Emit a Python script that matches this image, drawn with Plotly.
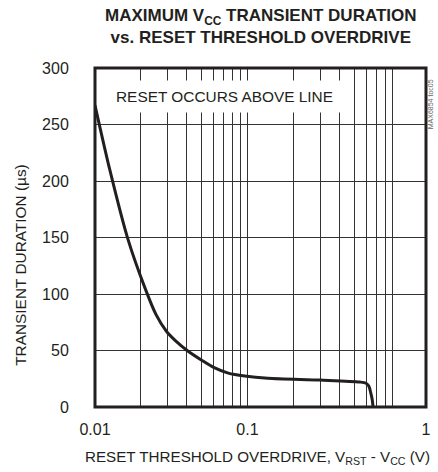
import math
import plotly.graph_objects as go

# ---- data ----
overdrive_v = [0.01, 0.0125, 0.0164, 0.0216, 0.0251, 0.0294, 0.0338, 0.0402,
               0.0498, 0.06, 0.0748, 0.0959, 0.136, 0.3, 0.545, 0.6,
               0.625, 0.645, 0.659, 0.666]
duration_us = [267, 210, 149, 103, 82, 67, 58.5, 50,
               41.6, 35, 30, 27.4, 25.4, 23.8, 22.1, 21,
               18.5, 12, 6, 0]

x_grid = [0.01, 0.02, 0.03, 0.04, 0.05, 0.06, 0.07, 0.08, 0.09,
          0.1, 0.2, 0.3, 0.4, 0.5, 0.6, 0.7, 0.8, 0.9]
x_labels = {0.01: "0.01", 0.1: "0.1"}
x_axis_end = 1.483          # right edge of the printed axis, labelled "1"
x_end_label = "1"
y_ticks = [0, 50, 100, 150, 200, 250, 300]

title_text = "<b>MAXIMUM V<sub>CC</sub> TRANSIENT DURATION<br>vs. RESET THRESHOLD OVERDRIVE</b>"
x_title = "RESET THRESHOLD OVERDRIVE, V<sub>RST</sub> - V<sub>CC</sub> (V)"
y_title = "TRANSIENT DURATION (µs)"
note_text = "RESET OCCURS ABOVE LINE"
tag_text = "MAX6854 toc05"

FONT = "Liberation Sans, Arial, sans-serif"
INK = "#231f20"
GRID = "#333333"

tickvals = x_grid + [x_axis_end]
ticktext = [x_labels.get(v, "") for v in x_grid] + [x_end_label]

fig = go.Figure()
fig.add_trace(go.Scatter(
    x=overdrive_v, y=duration_us, mode="lines",
    line=dict(color=INK, width=3, shape="spline", smoothing=0.8),
    hoverinfo="skip", showlegend=False,
))

fig.update_layout(
    width=438, height=472,
    margin=dict(l=95, r=7, t=68, b=65),
    paper_bgcolor="white", plot_bgcolor="white",
    font=dict(family=FONT, size=16, color=INK),
    showlegend=False,
    xaxis=dict(
        type="log", range=[math.log10(0.01), math.log10(x_axis_end)],
        tickmode="array", tickvals=tickvals, ticktext=ticktext,
        showgrid=True, gridcolor=GRID, gridwidth=1,
        zeroline=False, showline=False, ticks="",
        ticklabelstandoff=11,
        tickfont=dict(family=FONT, size=16, color=INK),
    ),
    yaxis=dict(
        range=[0, 300], tickmode="array", tickvals=y_ticks,
        showgrid=True, gridcolor=GRID, gridwidth=1,
        zeroline=False, showline=False,
        ticks="outside", ticklen=22, tickcolor="rgba(0,0,0,0)",
        tickfont=dict(family=FONT, size=16, color=INK),
    ),
    shapes=[dict(type="rect", xref="paper", yref="paper", x0=0, y0=0, x1=1, y1=1,
                 line=dict(color=INK, width=3), layer="above")],
    annotations=[
        dict(text=title_text, xref="paper", yref="paper", x=0.5, y=1.19,
             xanchor="center", yanchor="top", showarrow=False,
             font=dict(family=FONT, size=17, color=INK)),
        dict(text=x_title, xref="paper", yref="paper", x=0.49, y=-0.115,
             xanchor="center", yanchor="top", showarrow=False,
             font=dict(family=FONT, size=15.2, color=INK)),
        dict(text=y_title, xref="paper", yref="paper", x=-0.226, y=0.42,
             xanchor="center", yanchor="middle", textangle=-90, showarrow=False,
             font=dict(family=FONT, size=15.4, color=INK)),
        dict(text=note_text, xref="paper", yref="paper", x=0.392, y=0.917,
             xanchor="center", yanchor="middle", showarrow=False,
             bgcolor="white", borderpad=7,
             font=dict(family=FONT, size=15.4, color=INK)),
        dict(text=tag_text, xref="paper", yref="paper", x=1.016, y=0.894,
             xanchor="center", yanchor="middle", textangle=-90, showarrow=False,
             font=dict(family=FONT, size=7, color="#666")),
    ],
)

fig.write_html("out.html", config={"displayModeBar": False},
               post_script="document.body.style.margin='0';")
